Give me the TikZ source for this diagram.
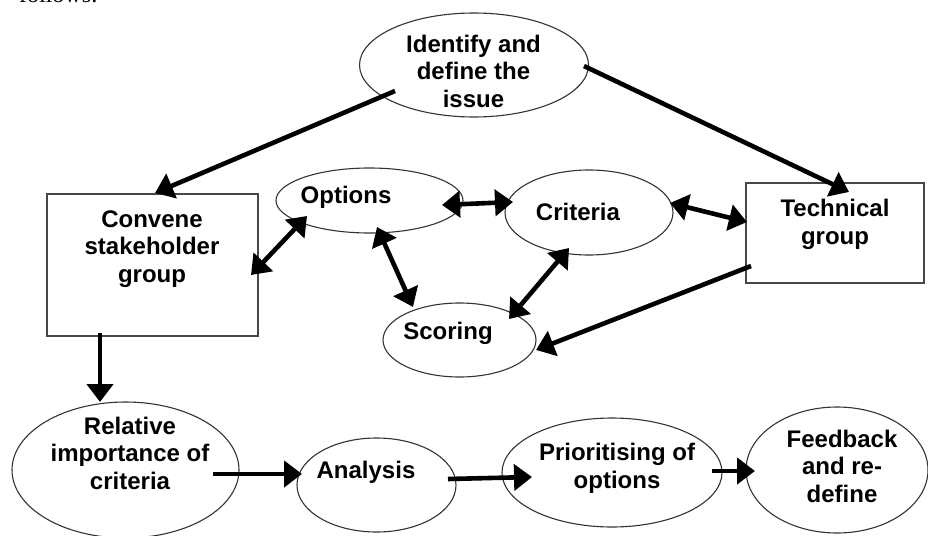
\documentclass[tikz,border=0pt]{standalone}
\usepackage{fontspec}
\setmainfont{Liberation Sans}
\newfontfamily\serifft{Liberation Serif}
\usetikzlibrary{shapes.geometric,arrows.meta,calc}
\begin{document}
\begin{tikzpicture}[x=1pt,y=-1pt,
  oval/.style={ellipse,draw=black!80,line width=1.1pt,inner sep=0pt,outer sep=0pt},
  box/.style={rectangle,draw=black!72,line width=1.7pt,inner sep=0pt,outer sep=0pt},
  lbl/.style={align=center,inner sep=0pt,font=\fontsize{24}{27.5}\selectfont\bfseries},
  arr/.style={line width=4.6pt,-{Triangle[length=18pt,width=26pt]}},
  darr/.style={line width=4.6pt,{Triangle[length=18pt,width=26pt]}-{Triangle[length=18pt,width=26pt]}}]
\useasboundingbox (0,0) rectangle (928,535);
\clip (0,0) rectangle (928,535);
% cut-off text at top
\node[anchor=base east,inner sep=0pt,font=\serifft\fontsize{24}{28}\selectfont] (fol) at (98,3) {follows:};
% shapes
\node[oval,minimum width=229pt,minimum height=104pt] (idf) at (474,65) {};
\node[box,minimum width=211pt,minimum height=142pt] (conv) at (152.5,265) {};
\node[oval,minimum width=187pt,minimum height=65pt] (opt) at (369.5,200.5) {};
\node[oval,minimum width=168pt,minimum height=85pt] (crit) at (589,212.5) {};
\node[box,minimum width=178pt,minimum height=100pt] (tech) at (835,233) {};
\node[oval,minimum width=153pt,minimum height=74pt] (scor) at (459.5,340) {};
\node[oval,minimum width=227pt,minimum height=136pt] (rel) at (125.5,470) {};
\node[oval,minimum width=159pt,minimum height=94pt] (ana) at (376.5,485) {};
\node[oval,minimum width=220pt,minimum height=109pt] (pri) at (612,472.5) {};
\node[oval,minimum width=182pt,minimum height=126pt] (fb) at (837,470) {};
% labels
\node[lbl] (idfT) at (473.5,71) {Identify and\\define the\\issue};
\node[lbl] (convT) at (152,249) {Convene\\stakeholder\\group};
\node[lbl] (optT) at (346,197) {Options};
\node[lbl] (critT) at (578,212) {Criteria};
\node[lbl] (techT) at (835,224.5) {Technical\\group};
\node[lbl] (scorT) at (448,333) {Scoring};
\node[lbl] (relT) at (130,453) {Relative\\importance of\\criteria};
\node[lbl] (anaT) at (366,472) {Analysis};
\node[lbl] (priT) at (617,468.5) {Prioritising of\\options};
\node[lbl] (fbT) at (842,466) {Feedback\\and re-\\define};
% connectors
\draw[arr] ($(idf.center)+(-79,26)$) -- ($(conv.north)+(2.5,-1)$);
\draw[arr] ($(idf.center)+(110,1)$) -- ($(tech.north)+(14,9)$);
\draw[darr] ($(conv.east)+(-7,10)$) -- ($(opt.center)+(-62.5,15.5)$);
\draw[darr] ($(opt.center)+(7.5,26.5)$) -- ($(scor.center)+(-46.5,-33)$);
\draw[darr] ($(opt.center)+(72.5,4.5)$) -- ($(crit.center)+(-76,-10.5)$);
\draw[darr] ($(crit.center)+(81,-9.5)$) -- ($(tech.west)+(1,-11)$);
\draw[darr] ($(crit.center)+(-20,35.5)$) -- ($(scor.center)+(49.5,-21)$);
\draw[arr] ($(tech.west)+(5,33)$) -- ($(scor.center)+(76.5,10)$);
\draw[arr] ($(conv.south)+(-52.5,-3)$) -- ($(rel.north)+(-25.5,0)$);
\draw[arr] ($(rel.center)+(87.5,4)$) -- ($(ana.center)+(-74.5,-11)$);
\draw[arr] ($(ana.center)+(71.5,-6)$) -- ($(pri.center)+(-80,4.5)$);
\draw[arr] ($(pri.center)+(100,-1.5)$) -- ($(fb.center)+(-82,1)$);
\end{tikzpicture}
\end{document}
